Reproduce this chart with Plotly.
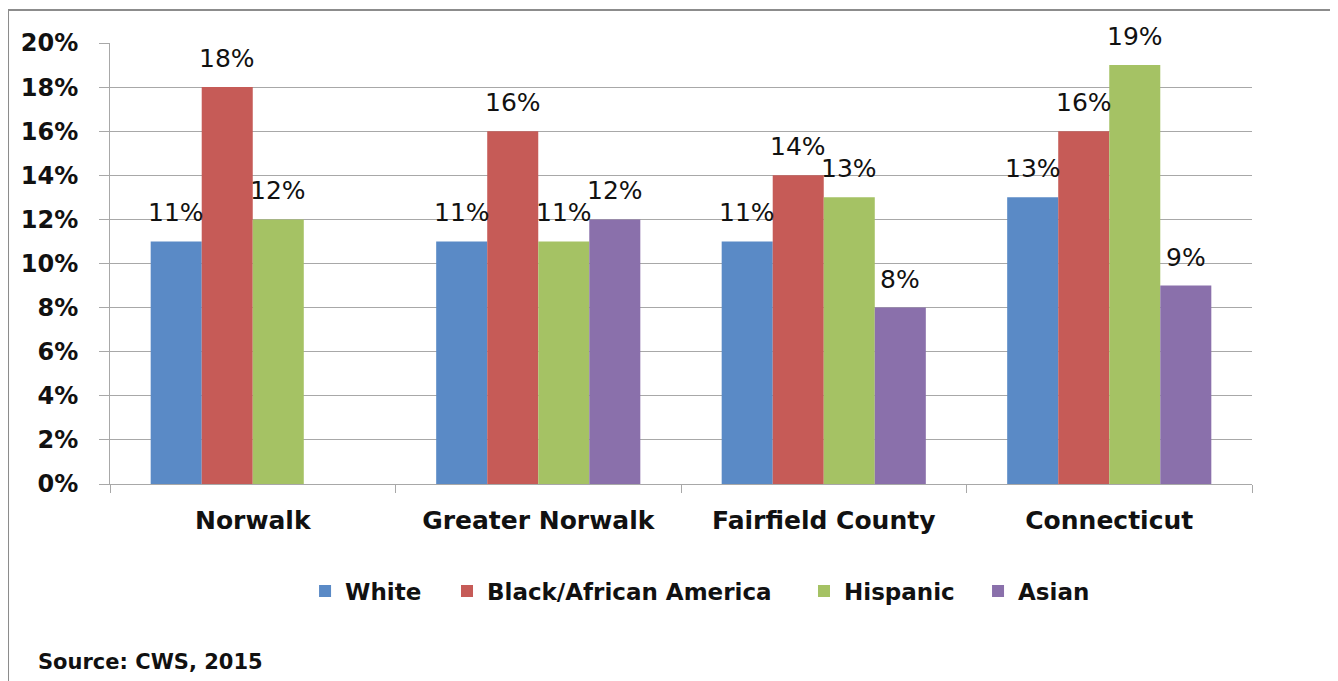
import plotly.graph_objects as go

categories = ["Norwalk", "Greater Norwalk", "Fairfield County", "Connecticut"]
series_names = ["White", "Black/African America", "Hispanic", "Asian"]
white = [11, 11, 11, 13]
black = [18, 16, 14, 16]
hispanic = [12, 11, 13, 19]
asian = [None, 12, 8, 9]
y_ticks = [0, 2, 4, 6, 8, 10, 12, 14, 16, 18, 20]
source_text = "Source: CWS, 2015"

series_values = [white, black, hispanic, asian]
colors = ["#5A8AC6", "#C65B57", "#A5C264", "#8A70AB"]
legend_ids = ["legend", "legend2", "legend3", "legend4"]
legend_x = [0.1708, 0.2951, 0.6077, 0.7601]

BARGAP = 0.285
FONT = "DejaVu Sans"
GRID = "#A8A8A8"
TXT = "#111111"

fig = go.Figure()
for name, vals, col, lid in zip(series_names, series_values, colors, legend_ids):
    fig.add_trace(go.Bar(
        x=categories, y=vals, name=name, legend=lid,
        marker=dict(color=col, line=dict(width=0)),
    ))

# data labels
w = (1 - BARGAP) / len(series_names)
annotations = []
for j, vals in enumerate(series_values):
    off = (j - (len(series_names) - 1) / 2) * w
    for i, v in enumerate(vals):
        if v is None:
            continue
        annotations.append(dict(
            x=i + off, y=v, xref="x", yref="y", text=f"{v}%",
            showarrow=False, yanchor="bottom", xanchor="center", yshift=12,
            font=dict(family=FONT, size=25, color=TXT),
        ))

annotations.append(dict(
    x=-0.065, y=-0.4036, xref="paper", yref="paper", text=source_text,
    showarrow=False, xanchor="left", yanchor="middle",
    font=dict(family=FONT, size=21, color=TXT, weight="bold"),
))

legend_style = dict(
    orientation="h", xanchor="left", y=-0.2426, yanchor="middle",
    font=dict(family=FONT, size=23, color=TXT, weight="bold"),
    itemwidth=30, bgcolor="rgba(0,0,0,0)",
)
legends = {lid: dict(legend_style, x=lx) for lid, lx in zip(legend_ids, legend_x)}

# page body has an 8px margin; margins compensate so the plot area lands in place
fig.update_layout(
    width=1338, height=681,
    margin=dict(l=102, r=94, t=35, b=205, autoexpand=False),
    paper_bgcolor="white", plot_bgcolor="white",
    barmode="group", bargap=BARGAP, bargroupgap=0,
    showlegend=True,
    annotations=annotations,
    shapes=[dict(
        type="rect", xref="paper", yref="paper",
        x0=-0.0893, x1=1.5, y0=-1.0, y1=1.0748,
        line=dict(color="#8C8C8C", width=2), fillcolor="rgba(0,0,0,0)", layer="below",
    )],
    **legends,
)

fig.update_xaxes(
    type="category",
    showline=True, linecolor=GRID, linewidth=1,
    ticks="outside", tickson="boundaries", ticklen=8, tickcolor=GRID,
    showgrid=False,
    tickfont=dict(family=FONT, size=25, color=TXT, weight="bold"),
    ticklabelstandoff=14,
)
fig.update_yaxes(
    range=[0, 20], tickvals=y_ticks, ticktext=[f"{t}%" for t in y_ticks],
    showline=True, linecolor=GRID, linewidth=1,
    ticks="outside", ticklen=10, tickcolor=GRID,
    showgrid=True, gridcolor=GRID, gridwidth=1,
    zeroline=False,
    tickfont=dict(family=FONT, size=24, color=TXT, weight="bold"),
    ticklabelstandoff=16,
)

fig.write_html("out.html")
